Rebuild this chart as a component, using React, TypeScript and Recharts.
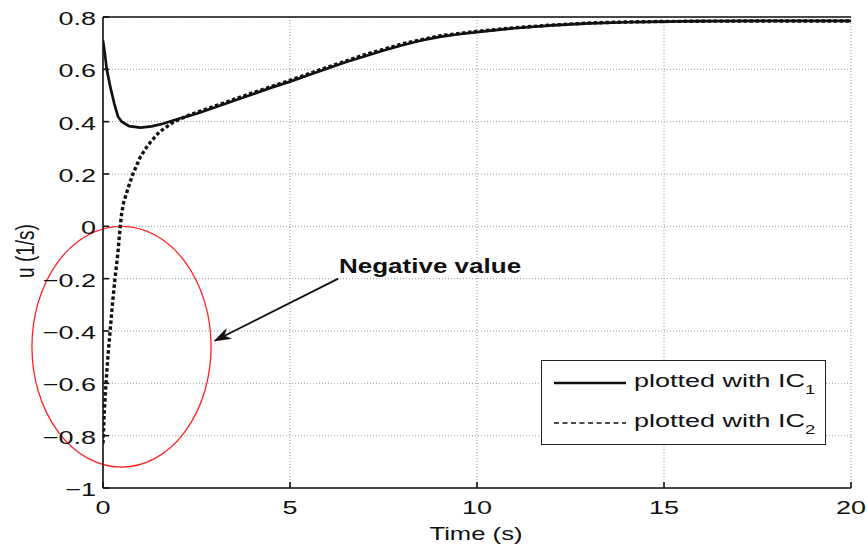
import React from "react";
import {
  LineChart,
  Line,
  XAxis,
  YAxis,
  CartesianGrid,
  Legend,
  ReferenceArea,
  ReferenceLine,
} from "recharts";

// solution plotted with initial condition IC1
const ic1Time = [0, 0.05, 0.1, 0.2, 0.3, 0.4, 0.5, 0.7, 1.0, 1.3, 1.6, 2.0, 2.5, 3.0, 3.5, 4.0, 4.5, 5.0, 5.5, 6.0, 6.5, 7.0, 7.5, 8.0, 8.5, 9.0, 9.5, 10, 10.5, 11, 12, 13, 14, 15, 16, 18, 20];
const ic1U = [0.71, 0.66, 0.6, 0.53, 0.47, 0.42, 0.4, 0.383, 0.377, 0.382, 0.392, 0.41, 0.43, 0.455, 0.48, 0.505, 0.53, 0.553, 0.578, 0.603, 0.628, 0.65, 0.672, 0.692, 0.71, 0.724, 0.734, 0.742, 0.75, 0.757, 0.768, 0.776, 0.78, 0.782, 0.784, 0.785, 0.785];

// solution plotted with initial condition IC2
const ic2Time = [0, 0.03, 0.08, 0.13, 0.19, 0.25, 0.32, 0.4, 0.46, 0.5, 0.55, 0.68, 0.8, 1.0, 1.2, 1.5, 1.9, 2.3, 2.5, 3.0, 3.5, 4.0, 5.0, 6.0, 7.0, 8.0, 9.0, 10, 11, 12, 13, 14, 15, 16, 18, 20];
const ic2U = [-0.83, -0.72, -0.6, -0.5, -0.4, -0.3, -0.2, -0.1, 0.0, 0.05, 0.09, 0.15, 0.2, 0.266, 0.31, 0.36, 0.4, 0.425, 0.435, 0.46, 0.485, 0.51, 0.558, 0.608, 0.656, 0.697, 0.728, 0.745, 0.759, 0.769, 0.777, 0.781, 0.783, 0.784, 0.785, 0.785];

const xTicks = [0, 5, 10, 15, 20];
const yTicks = [-1, -0.8, -0.6, -0.4, -0.2, 0, 0.2, 0.4, 0.6, 0.8];

const legendLabels = ["plotted with IC", "plotted with IC"];
const legendSubs = ["1", "2"];

// annotation: ellipse around the negative part, arrow pointing at it
const ellipseX = [-1.9, 2.89];
const ellipseU = [-0.92, 0];
const arrowFrom = { x: 6.29, y: -0.2 };
const arrowTo = { x: 2.95, y: -0.44 };

const ic1Data = ic1Time.map((t, i) => ({ t, u: ic1U[i] }));
const ic2Data = ic2Time.map((t, i) => ({ t, u: ic2U[i] }));

const FONT = '"Liberation Sans", Arial, Helvetica, sans-serif';
const STRETCH = 1.42;

// matlab style labels, with a real minus sign
const fmt = (v: number) => String(Number(v.toFixed(1))).replace("-", "\u2212");

const XTick = ({ x, y, payload }: any) => (
  <text
    transform={`translate(${x},${y}) scale(${STRETCH},1)`}
    textAnchor="middle"
    dy="0.72em"
    fontSize={19}
    fontFamily={FONT}
    fill="#111"
  >
    {fmt(payload.value)}
  </text>
);

const YTick = ({ x, y, payload }: any) => (
  <text
    transform={`translate(${x},${y}) scale(${STRETCH},1)`}
    textAnchor="end"
    dy="0.42em"
    fontSize={19}
    fontFamily={FONT}
    fill="#111"
  >
    {fmt(payload.value)}
  </text>
);

const NoTick = () => <g />;

const EllipseShape = (p: any) => (
  <ellipse
    cx={p.x + p.width / 2}
    cy={p.y + p.height / 2}
    rx={Math.abs(p.width) / 2}
    ry={Math.abs(p.height) / 2}
    fill="none"
    stroke="#ff2020"
    strokeWidth={1.3}
  />
);

const ArrowShape = (p: any) => {
  const { x1, y1, x2, y2 } = p;
  const ang = Math.atan2(y2 - y1, x2 - x1);
  const len = 18;
  const hw = 6;
  const bx = x2 - len * Math.cos(ang);
  const by = y2 - len * Math.sin(ang);
  const nx = -Math.sin(ang);
  const ny = Math.cos(ang);
  const mx = x2 - len * 0.7 * Math.cos(ang);
  const my = y2 - len * 0.7 * Math.sin(ang);
  return (
    <g>
      <line x1={x1} y1={y1} x2={mx} y2={my} stroke="#111" strokeWidth={1.8} />
      <polygon
        points={`${x2},${y2} ${bx + nx * hw},${by + ny * hw} ${mx},${my} ${bx - nx * hw},${by - ny * hw}`}
        fill="#111"
      />
    </g>
  );
};

const LegendBox = () => (
  <div
    style={{
      position: "relative",
      width: 285,
      height: 85,
      border: "1.5px solid #222",
      background: "#fff",
      boxSizing: "border-box",
      fontFamily: FONT,
    }}
  >
    {legendLabels.map((lab, i) => (
      <div key={i} style={{ position: "absolute", left: 11, top: 8 + i * 40, height: 28, width: 270 }}>
        <svg width={74} height={28} style={{ position: "absolute", left: 0, top: 0 }}>
          <line
            x1={1}
            x2={73}
            y1={14}
            y2={14}
            stroke="#111"
            strokeWidth={i === 0 ? 2.6 : 1.6}
            strokeDasharray={i === 0 ? undefined : "5 3.5"}
          />
        </svg>
        <div
          style={{
            position: "absolute",
            left: 81,
            top: 2,
            fontSize: 19,
            lineHeight: "19px",
            whiteSpace: "nowrap",
            color: "#111",
            transform: `scaleX(${STRETCH})`,
            transformOrigin: "left center",
          }}
        >
          {lab}
          <span style={{ fontSize: 13, position: "relative", top: 7 }}>{legendSubs[i]}</span>
        </div>
      </div>
    ))}
  </div>
);

export default function App() {
  return (
    <div style={{ position: "absolute", left: 0, top: 0, width: 868, height: 545, background: "#fff", fontFamily: FONT }}>
      <LineChart width={868} height={545} margin={{ top: 0, right: 17, bottom: 0, left: 0 }}>
        <CartesianGrid stroke="#999" strokeDasharray="1 2" strokeWidth={1} />
        <XAxis
          dataKey="t"
          type="number"
          domain={[0, 20]}
          ticks={xTicks}
          height={57}
          tick={<XTick />}
          tickSize={-6}
          tickMargin={18}
          stroke="#111"
          strokeWidth={1.6}
          allowDataOverflow
        />
        <XAxis
          xAxisId="top"
          orientation="top"
          type="number"
          domain={[0, 20]}
          ticks={xTicks}
          height={17}
          tick={<NoTick />}
          tickSize={-6}
          stroke="#111"
          strokeWidth={1.6}
        />
        <YAxis
          type="number"
          domain={[-1, 0.8]}
          ticks={yTicks}
          width={103}
          tick={<YTick />}
          tickSize={-6}
          tickMargin={13}
          stroke="#111"
          strokeWidth={1.6}
          allowDataOverflow
        />
        <YAxis
          yAxisId="right"
          orientation="right"
          type="number"
          domain={[-1, 0.8]}
          ticks={yTicks}
          width={0}
          tick={<NoTick />}
          tickSize={-6}
          stroke="#111"
          strokeWidth={1.6}
        />
        <Line
          data={ic1Data}
          dataKey="u"
          type="linear"
          stroke="#111"
          strokeWidth={2.7}
          dot={false}
          activeDot={false}
          isAnimationActive={false}
          name="IC1"
        />
        <Line
          data={ic2Data}
          dataKey="u"
          type="linear"
          stroke="#111"
          strokeWidth={3.4}
          strokeDasharray="3.5 2.5"
          dot={false}
          activeDot={false}
          isAnimationActive={false}
          name="IC2"
        />
        <ReferenceArea
          x1={ellipseX[0]}
          x2={ellipseX[1]}
          y1={ellipseU[0]}
          y2={ellipseU[1]}
          ifOverflow="visible"
          shape={EllipseShape}
        />
        <ReferenceLine segment={[arrowFrom, arrowTo]} ifOverflow="visible" shape={ArrowShape} />
        <Legend
          layout="vertical"
          align="center"
          verticalAlign="middle"
          content={() => <LegendBox />}
          wrapperStyle={{ left: 541, top: 360, width: 285, height: 85 }}
        />
      </LineChart>

      <div
        style={{
          position: "absolute",
          left: 339,
          top: 256,
          fontSize: 20,
          fontWeight: "bold",
          lineHeight: "20px",
          whiteSpace: "nowrap",
          color: "#111",
          transform: "scaleX(1.3)",
          transformOrigin: "left center",
        }}
      >
        Negative value
      </div>
      <div
        style={{
          position: "absolute",
          left: 376,
          top: 524,
          width: 200,
          textAlign: "center",
          fontSize: 19,
          lineHeight: "19px",
          color: "#111",
          transform: "scaleX(1.35)",
        }}
      >
        Time (s)
      </div>
      <div
        style={{
          position: "absolute",
          left: -74,
          top: 241,
          width: 200,
          height: 20,
          textAlign: "center",
          fontSize: 19,
          lineHeight: "20px",
          color: "#111",
          transform: "scaleX(1.4) rotate(-90deg)",
        }}
      >
        u (1/s)
      </div>
    </div>
  );
}
